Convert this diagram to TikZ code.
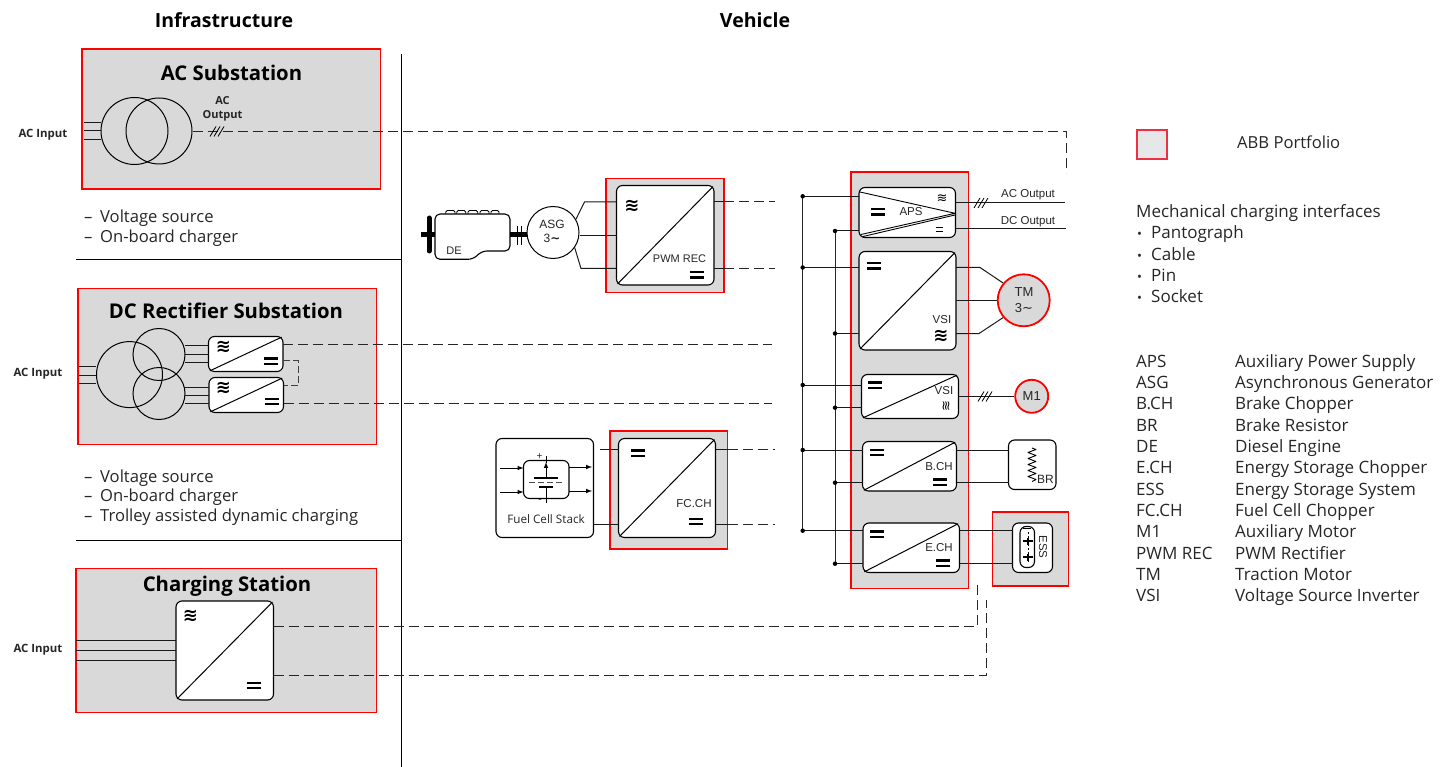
\documentclass[tikz,border=0pt]{standalone}
\usepackage{fontspec}
\setmainfont{Open Sans}
\newfontfamily\lab{Liberation Sans}
\newfontfamily\sym{DejaVu Sans}
\definecolor{ggray}{HTML}{D9D9D9}
\definecolor{lgray}{HTML}{E6E7E9}
\definecolor{rred}{HTML}{FF0000}
\definecolor{lred}{HTML}{F03040}
\definecolor{txt}{HTML}{262626}
\tikzset{
 redbox/.style={draw=rred,fill=ggray,line width=1.8pt,inner sep=0pt,outer sep=0pt},
 conv/.style={draw=black,fill=white,line width=1.1pt,rounded corners=6pt,inner sep=0pt,outer sep=0pt},
 wire/.style={line width=1pt,black!90},
 dwire/.style={line width=1pt,black!85,dash pattern=on 10pt off 5pt},
 bar/.style={line width=2.2pt,black},
 ttl/.style={font=\bfseries\fontsize{20.3}{24}\selectfont,inner sep=0pt},
 head/.style={font=\bfseries\fontsize{19.5}{24}\selectfont,inner sep=0pt},
 inp/.style={font=\bfseries\fontsize{11.4}{13}\selectfont,inner sep=0pt,text=txt},
 body/.style={font=\fontsize{16.6}{20}\selectfont,inner sep=0pt,anchor=base west,yshift=-6.5pt,text=txt},
 tbl/.style={font=\fontsize{17}{20}\selectfont,inner sep=0pt,anchor=base west,yshift=-6.5pt,text=txt},
 small/.style={font=\lab\fontsize{11.5}{14}\selectfont,inner sep=0pt,text=txt},
 appr/.style={font=\sym\bfseries\fontsize{18}{18}\selectfont,inner sep=0pt},
 apprs/.style={font=\sym\fontsize{13}{13}\selectfont,inner sep=0pt},
 dot/.style={circle,fill=black,inner sep=0pt,minimum size=4.5pt},
}
\newcommand{\bx}[6]{%
 \pgfmathsetmacro\bw{#5-#3}\pgfmathsetmacro\bh{#6-#4}%
 \pgfmathsetmacro\bcx{(#3+#5)/2}\pgfmathsetmacro\bcy{(#4+#6)/2}%
 \node[#1,minimum width=\bw pt,minimum height=\bh pt] (#2) at (\bcx,\bcy) {};}
\newcommand{\eqs}[2]{\draw[bar,shift={(#1,#2)}] (-7,-2.6)--(7,-2.6) (-7,2.6)--(7,2.6);}
\newcommand{\eqsm}[2]{\draw[line width=.9pt,shift={(#1,#2)}] (-3.5,-1.7)--(3.5,-1.7) (-3.5,1.7)--(3.5,1.7);}
\newcommand{\tslash}[2]{\draw[line width=.8pt,shift={(#1,#2)}] (-7,5)--(-1,-5) (-3,5)--(3,-5) (1,5)--(7,-5);}
\newcommand{\diag}[1]{\draw[line width=1pt,shorten <=1.5pt,shorten >=1.5pt] (#1.south west)--(#1.north east);}
\begin{document}
\begin{tikzpicture}[x=1pt,y=-1pt]
\useasboundingbox (0,0) rectangle (1448,767);
% headings
\node[head] (hinf) at (224,20) {Infrastructure};
\node[head] (hveh) at (755,20) {Vehicle};
% dividers
\coordinate (dv1) at (401,54); \coordinate (dv2) at (401,767);
\draw[line width=.8pt] (dv1)--(dv2);
\coordinate (h1a) at (76,259.5); \coordinate (h2a) at (76,540);
\draw[line width=.8pt] (h1a)--(dv1 |- h1a);
\draw[line width=.8pt] (h2a)--(dv1 |- h2a);
% red boxes
\bx{redbox}{acsub}{82}{49}{380.5}{189}
\bx{redbox}{dcsub}{78}{288.5}{376.5}{444.5}
\bx{redbox}{chst}{76}{568.5}{376.5}{712.5}
\bx{redbox}{pwmr}{606}{178.5}{724}{292.5}
\bx{redbox}{fcr}{610}{431}{727.5}{549}
\bx{redbox}{vehr}{851}{172}{968.5}{588.5}
\bx{redbox}{essr}{992.5}{512}{1068.5}{586}
\bx{redbox,draw=lred,fill=lgray}{legend}{1137}{130}{1167}{159}
% titles
\node[ttl] (t1) at (231.5,73) {AC Substation};
\node[ttl] (t2) at (226,311) {DC Rectifier Substation};
\node[ttl] (t3) at (227,586.5) {Charging Station};
\node[inp] (i1) at (43,134.5) {AC Input};
\node[inp] (i2) at (38,373.5) {AC Input};
\node[inp] (i3) at (38,649.5) {AC Input};
% bullets
\foreach \y/\t [count=\i] in {216/Voltage source,236/On-board charger,476/Voltage source,495/On-board charger,515/Trolley assisted dynamic charging}{
 \node[body] (bd\i) at (84,\y) {–};
 \node[body] (bt\i) at (100,\y) {\t};
}
% AC substation
\node[circle,draw,line width=1pt,minimum size=67pt,inner sep=0pt] (tr1) at (134.5,131) {};
\node[circle,draw,line width=1pt,minimum size=66pt,inner sep=0pt] (tr2) at (159,131) {};
\foreach \y in {122.7,130.7,139.3}{\coordinate (a) at (84,\y); \draw[wire] (a)--(tr1.west |- a);}
\coordinate (acv) at (1066,131.5); \coordinate (acd) at (1066,173);
\draw[dwire] (tr2.east |- acv)--(acv)--(acd);
\tslash{217}{131.5}
\node[inp,align=center,font=\bfseries\fontsize{11}{14}\selectfont] (acout) at (222.5,109) {AC\\Output};
% DC rectifier
\node[circle,draw,line width=1pt,minimum size=66pt,inner sep=0pt] (d1) at (129.5,374.6) {};
\node[circle,draw,line width=1pt,minimum size=52pt,inner sep=0pt] (d2) at (159,354.5) {};
\node[circle,draw,line width=1pt,minimum size=52pt,inner sep=0pt] (d3) at (159,393.5) {};
\bx{conv}{r1}{208.5}{336.5}{283}{371.5}
\bx{conv}{r2}{209}{377.5}{283.5}{412.5}
\diag{r1}\diag{r2}
\foreach \y in {366.7,375,383.3}{\coordinate (a) at (79,\y); \draw[wire] (a)--(d1.west |- a);}
\foreach \y in {345.7,354,362}{\coordinate (a) at (184.5,\y); \draw[wire] (a)--(r1.west |- a);}
\foreach \y in {387.3,395.7,403.7}{\coordinate (a) at (184.5,\y); \draw[wire] (a)--(r2.west |- a);}
\coordinate (de1) at (772,344); \coordinate (de2) at (772,403.5);
\draw[dwire] (r1.east |- de1)--(de1);
\draw[dwire] (r2.east |- de2)--(de2);
\coordinate (br1) at (298,360.5); \coordinate (br2) at (298,385.5);
\draw[line width=.9pt,black!75,dash pattern=on 7pt off 3pt] (r1.east |- br1)--(br1)--(br2)--(r2.east |- br2);
\node[appr] (ra1) at (223.5,347) {≋};
\node[appr] (ra2) at (223.5,388) {≋};
\eqs{270.5}{361}\eqs{271.5}{401.5}
% charging station
\bx{conv}{cs}{176}{601}{273.5}{700}
\diag{cs}
\foreach \y in {640.7,650.7,660.7}{\coordinate (a) at (76,\y); \draw[wire] (a)--(cs.west |- a);}
\coordinate (ce1) at (977,626); \coordinate (ce1b) at (977,584);
\coordinate (ce2) at (986,675); \coordinate (ce2b) at (986,600);
\draw[dwire] (cs.east |- ce1)--(ce1)--(ce1b);
\draw[dwire] (cs.east |- ce2)--(ce2)--(ce2b);
\node[appr] (csa) at (190.5,616) {≋};
\eqs{253.5}{685.5}
% engine
\foreach \a/\b in {445.7/455,456.7/465.7,468/477.7,480/489,491/499}{
 \draw[line width=.9pt,fill=white,rounded corners=1.5pt] (\a,215)--(\a,210.5)--(\b,210.5)--(\b,215);
}
\draw[line width=1.1pt,fill=white,rounded corners=5pt] (435,214)--(510,214)--(510,251)--(482,251)--(473,259.3)--(435,259.3)--cycle;
\coordinate (dem) at (435,235);
\node[small,font=\lab\fontsize{11}{13}\selectfont] (de) at (454,251) {DE};
\draw[line width=5pt,line cap=round] (429,218)--(429,251);
\draw[line width=5pt] (421,235)--(dem);
\node[circle,draw,fill=white,line width=1pt,minimum size=52pt,inner sep=0pt] (asg) at (553,232.5) {};
\draw[line width=5pt] (510,235)--(asg.west |- 0,235);
\draw[line width=1pt] (517.5,226)--(517.5,245) (521,226)--(521,245);
\node[small,font=\lab\fontsize{12}{14}\selectfont] (asgt) at (552,224) {ASG};
\node[small,font=\lab\fontsize{12}{14}\selectfont] (asgn) at (552,238.5) {3{\sym\bfseries ∼}};
% PWM
\bx{conv}{pwm}{616.5}{185.5}{714}{285}
\coordinate (pu) at (584.5,202); \coordinate (pl) at (581,268.5);
\draw[wire] (asg.30)--(pu)--(pwm.west |- pu);
\draw[wire] (asg.east |- 0,235.5)--(pwm.west |- 0,235.5);
\draw[wire] (asg.-35)--(pl)--(pwm.west |- pl);
\diag{pwm}
\node[small,font=\lab\fontsize{11}{13}\selectfont] (pwmt) at (679.5,258.5) {PWM REC};
\node[appr] (pwma) at (632,205.5) {≋};
\eqs{697}{275}
\coordinate (pd1) at (775,202); \coordinate (pd2) at (775,268.5);
\draw[wire] (pwm.east |- pd1)--(724,202);
\draw[dwire] (724,202)--(pd1);
\draw[wire] (pwm.east |- pd2)--(724,268.5);
\draw[dwire] (724,268.5)--(pd2);
% Fuel cell
\bx{conv}{fcs}{496}{438.5}{593.5}{537.5}
\bx{conv}{fci}{523.5}{460.5}{569}{498.5}
\foreach \y [count=\i] in {468,492}{\coordinate (a) at (500,\y); \draw[line width=1pt,-latex] (a)--(fci.west |- a);}
\foreach \y [count=\i] in {467,491}{\coordinate (a) at (592,\y); \draw[line width=1pt,-latex] (fci.east |- a)--(a);}
\draw[line width=1pt] (546,487)--(546,503);
\draw[line width=1pt] (546,463)--(546,456);
\draw[line width=1pt,-latex] (546,478)--(546,462);
\draw[line width=1.1pt] (534,478)--(558,478) (539,487)--(553,487);
\draw[line width=.8pt,dash pattern=on 6pt off 3pt,black!70] (529,482.7)--(563,482.7);
\node[small,font=\lab\fontsize{10}{10}\selectfont] (fp) at (539.5,456.5) {+};
\node[small,font=\lab\fontsize{10}{10}\selectfont] (fm) at (540,501) {-};
\node[small,font=\fontsize{11.7}{13}\selectfont] (fct) at (546,519) {Fuel Cell Stack};
\bx{conv}{fc}{618.5}{438.5}{715.5}{537.5}
\coordinate (fl1) at (600,449.5); \coordinate (fr1) at (775,449.5);
\coordinate (fr2) at (775,524.5);
\draw[wire] (fl1)--(fc.west |- fl1);
\draw[wire] (fcs.east |- fr2)--(fc.west |- fr2);
\draw[wire] (fc.east |- fr1)--(727.5,449.5);
\draw[dwire] (727.5,449.5)--(fr1);
\draw[wire] (fc.east |- fr2)--(727.5,524.5);
\draw[dwire] (727.5,524.5)--(fr2);
\diag{fc}
\node[small] (fct2) at (694,504) {FC.CH};
\eqs{638}{453}\eqs{695.5}{521.5}
% buses
\coordinate (b1t) at (802.7,196.3); \coordinate (b1b) at (802.7,530.7);
\coordinate (b2t) at (835,231); \coordinate (b2b) at (835,563.7);
\draw[line width=1pt,black!85] (b1t)--(b1b);
\draw[line width=1pt,black!85] (b2t)--(b2b);
% vehicle converters
\bx{conv}{aps}{859}{187.5}{955.5}{237.5}
\bx{conv}{vsi}{859}{251.5}{956}{350}
\bx{conv}{vsb}{861.5}{374.5}{958.5}{418.5}
\bx{conv}{bch}{862.5}{441.5}{956.5}{491}
\bx{conv}{ech}{863}{523}{959.5}{572.5}
\foreach \y/\n in {196.3/aps,267.5/vsi,385/vsb,450/bch,530.7/ech}{
 \coordinate (a) at (b1t |- 0,\y);
 \draw[wire] (a)--(\n.west |- a);
 \node[dot] at (a) {};
}
\foreach \y/\n in {231/aps,333.5/vsi,407.7/vsb,482.7/bch,563.7/ech}{
 \coordinate (a) at (b2t |- 0,\y);
 \draw[wire] (a)--(\n.west |- a);
 \node[dot] at (a) {};
}
\diag{vsi}\diag{vsb}\diag{bch}\diag{ech}
\draw[line width=.9pt] (860,192)--(955,213.3) (861,234.5)--(955,213.3) (863,236.5)--(955,215);
\node[small] (apst) at (911,212) {APS};
\eqs{878}{212}
\node[apprs] (apsa) at (942,199) {≋};
\eqsm{939}{229.5}
\node[small] (vst) at (942,319.5) {VSI};
\eqs{874}{266}
\node[appr] (vsa) at (941,336) {≋};
\node[small] (vbt) at (944,391) {VSI};
\eqs{875}{385}
\node[apprs,rotate=90] (vba) at (946.5,406) {≋};
\node[small] (bct) at (939,466.5) {B.CH};
\eqs{877}{452.5}\eqs{940}{482}
\node[small] (ect) at (939,547.5) {E.CH};
\eqs{877}{534}\eqs{943}{563}
% outputs
\coordinate (ao) at (1065,203); \coordinate (dco) at (1066,229);
\draw[wire] (aps.east |- ao)--(ao);
\draw[wire] (aps.east |- dco)--(dco);
\tslash{981}{203}
\node[small] (aot) at (1028,194.5) {AC Output};
\node[small] (dct) at (1028,221.5) {DC Output};
% TM
\node[circle,draw=rred,fill=ggray,line width=1.8pt,minimum size=52pt,inner sep=0pt] (tm) at (1023.7,300.3) {};
\coordinate (tu) at (980,267.5); \coordinate (tl) at (979,333.5);
\draw[wire] (vsi.east |- tu)--(tu)--(tm.140);
\draw[wire] (vsi.east |- tm)--(tm.west);
\draw[wire] (vsi.east |- tl)--(tl)--(tm.-140);
\node[small,font=\lab\fontsize{13}{15}\selectfont] (tmt) at (1024,292) {TM};
\node[small,font=\lab\fontsize{13}{15}\selectfont] (tmn) at (1024,308.5) {3{\sym ∼}};
% M1
\node[circle,draw=rred,fill=ggray,line width=1.8pt,minimum size=33pt,inner sep=0pt] (m1) at (1031.7,396.3) {};
\draw[wire] (vsb.east |- m1)--(m1.west);
\tslash{985}{396.5}
\node[small,font=\lab\fontsize{13}{15}\selectfont] (m1t) at (1031.7,396.5) {M1};
% BR
\bx{conv}{brb}{1008.5}{440}{1056}{489.5}
\coordinate (bu) at (1008.5,450); \coordinate (bl) at (1008.5,482.7);
\draw[wire] (bch.east |- bu)--(bu);
\draw[wire] (bch.east |- bl)--(bl);
\draw[line width=.9pt,line join=round] (1032,448)--(1036,449.5)--(1028,452.5)--(1036,455.5)--(1028,458.5)--(1036,461.5)--(1028,464.5)--(1036,467.5)--(1028,470.5)--(1036,473.5)--(1028,476.5)--(1036,479.5)--(1032,481.5);
\node[small,font=\lab\fontsize{12}{14}\selectfont] (brt) at (1045.5,479.5) {BR};
% ESS
\bx{conv}{ess}{1012.5}{523}{1052.5}{572.5}
\coordinate (eu) at (1012.5,530.7); \coordinate (el) at (1012.5,563.7);
\draw[wire] (ech.east |- eu)--(eu);
\draw[wire] (ech.east |- el)--(el);
\bx{conv}{essi}{1020}{526.5}{1034.5}{567.5}
\draw[line width=.7pt] (1023,528.5)--(1031,528.5);
\draw[line width=.8pt,dash pattern=on 2pt off 2pt] (1028,532)--(1028,563);
\draw[line width=1.1pt] (1023,541)--(1033,541) (1023,557)--(1033,557) (1028,537.5)--(1028,544.5) (1028,553.5)--(1028,560.5);
\node[small,rotate=-90] (esst) at (1043,547) {ESS};
% legend
\node[body] (lt) at (1237,142) {ABB Portfolio};
\node[tbl] (mc) at (1136,211) {Mechanical charging interfaces};
\foreach \y/\t [count=\i] in {232/Pantograph,254/Cable,275/Pin,296/Socket}{
 \node[body,font=\fontsize{13}{15}\selectfont] (md\i) at (1137,\y) {•};
 \node[tbl] (mt\i) at (1151,\y) {\t};
}
\foreach \y/\a/\b [count=\i] in {361/APS/Auxiliary Power Supply,382/ASG/Asynchronous Generator,403/B.CH/Brake Chopper,424.5/BR/Brake Resistor,446/DE/Diesel Engine,467/E.CH/Energy Storage Chopper,488.5/ESS/Energy Storage System,510/FC.CH/Fuel Cell Chopper,531/M1/Auxiliary Motor,553/PWM REC/PWM Rectifier,574/TM/Traction Motor,595/VSI/Voltage Source Inverter}{
 \node[tbl] (la\i) at (1136,\y) {\a};
 \node[tbl] (lb\i) at (1235,\y) {\b};
}
\end{tikzpicture}
\end{document}
